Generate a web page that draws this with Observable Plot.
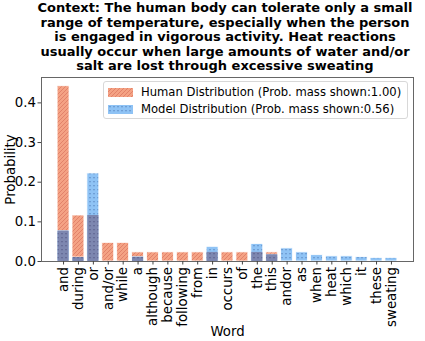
<!DOCTYPE html>
<html>
<head>
<meta charset="utf-8">
<script src="https://cdn.jsdelivr.net/npm/d3@7"></script>
<script src="https://cdn.jsdelivr.net/npm/@observablehq/plot@0.6"></script>
<style>
  html, body { margin: 0; padding: 0; background: #fff; }
  body { font-family: "DejaVu Sans", sans-serif; }
  #wrap { position: relative; width: 425px; height: 341px; overflow: hidden; }
  #title { position: relative; height: 76px; width: 425px; }
  #title div { position: absolute; left: 25px; width: 400px; top: 1px; text-align: center;
    font-weight: bold; font-size: 13px; line-height: 14.6px; white-space: nowrap; color: #000; }
  #legend { position: absolute; left: 103px; top: 81px; width: 303px; height: 36px;
    border: 1px solid #d8d8d8; border-radius: 3px; background: rgba(255,255,255,0.8);
    font-size: 11.6px; color: #000; }
  .row { position: absolute; left: 4px; height: 12px; display: flex; align-items: center; white-space: nowrap; }
  .row svg { display: block; margin-right: 8px; }
</style>
</head>
<body>
<svg width="0" height="0" style="position:absolute">
  <defs>
    <pattern id="hatchO" patternUnits="userSpaceOnUse" width="4" height="4">
      <rect width="4" height="4" fill="#f4a284"></rect>
      <path d="M-1,1 l2,-2 M0,4 l4,-4 M3,5 l2,-2" stroke="#e2826a" stroke-width="1"></path>
    </pattern>
    <pattern id="dotsB" patternUnits="userSpaceOnUse" width="4" height="4">
      <rect width="4" height="4" fill="#8fc3f5"></rect>
      <rect x="1" y="1" width="2" height="1.3" fill="#6f9fd6"></rect>
    </pattern>
    <pattern id="dotsD" patternUnits="userSpaceOnUse" width="4" height="4">
      <rect width="4" height="4" fill="#7d87b0"></rect>
      <rect x="1" y="1" width="2" height="1.3" fill="#666d98"></rect>
    </pattern>
  </defs>
</svg>
<div id="wrap">
  <div id="title"><div>Context: The human body can tolerate only a small<br>range of temperature, especially when the person<br>is engaged in vigorous activity. Heat reactions<br>usually occur when large amounts of water and/or<br>salt are lost through excessive sweating</div></div>
  <div id="chart"></div>
  <div id="legend">
    <div class="row" style="top:4px"><svg width="25" height="9"><rect width="25" height="9" fill="url(#hatchO)"></rect></svg><span>Human Distribution (Prob. mass shown:1.00)</span></div>
    <div class="row" style="top:21px"><svg width="25" height="9"><rect width="25" height="9" fill="url(#dotsB)"></rect></svg><span>Model Distribution (Prob. mass shown:0.56)</span></div>
  </div>
</div>
<script>
const words = ["and","during","or","and/or","while","a","although","because","following","from","in","occurs","of","the","this","andor","as","when","heat","which","it","these","sweating"];
const human = [0.442,0.116,0.116,0.047,0.047,0.023,0.023,0.023,0.023,0.023,0.023,0.023,0.023,0.023,0.023,0,0,0,0,0,0,0,0];
const model = [0.077,0.010,0.222,0,0,0.011,0,0,0,0,0.037,0,0,0.044,0.017,0.033,0.023,0.016,0.013,0.013,0.011,0.009,0.009];
const yTicks = [0, 0.1, 0.2, 0.3, 0.4];

const data = words.map((w, i) => ({word: w, human: human[i], model: model[i], both: Math.min(human[i], model[i])}));

const chart = Plot.plot({
  width: 425,
  height: 265,
  marginTop: 1,
  marginBottom: 80,
  marginLeft: 41,
  marginRight: 12,
  style: {fontFamily: "DejaVu Sans, sans-serif", background: "#fff", color: "#000"},
  x: {type: "band", domain: words, paddingInner: 0.2, paddingOuter: 1.08, round: false},
  y: {domain: [0, 0.464]},
  marks: [
    Plot.barY(data.filter(d => d.human > 0), {x: "word", y: "human", fill: "url(#hatchO)", stroke: "#fff", strokeWidth: 0.8}),
    Plot.barY(data.filter(d => d.model > 0), {x: "word", y: "model", fill: "url(#dotsB)", stroke: "#fff", strokeWidth: 0.8}),
    Plot.barY(data.filter(d => d.both > 0), {x: "word", y: "both", fill: "url(#dotsD)", insetLeft: 0.4, insetRight: 0.4}),
    Plot.frame({stroke: "#666", strokeWidth: 1}),
    Plot.axisY({ticks: yTicks, tickFormat: d3.format(".1f"), tickSize: 3.5, tickPadding: 2, fontSize: 13.3, label: null, stroke: "#444"}),
    Plot.axisX({tickRotate: -90, tickSize: 3.5, tickPadding: 2, fontSize: 13.3, label: null, stroke: "#444"}),
    Plot.text(["Probability"], {frameAnchor: "left", dx: -31, rotate: -90, fontSize: 13.3, textAnchor: "middle", lineAnchor: "middle", fill: "#000"}),
    Plot.text(["Word"], {frameAnchor: "bottom", dy: 70, fontSize: 13.3, textAnchor: "middle", lineAnchor: "middle", fill: "#000"})
  ]
});
document.getElementById("chart").appendChild(chart);
</script>
</body>
</html>
